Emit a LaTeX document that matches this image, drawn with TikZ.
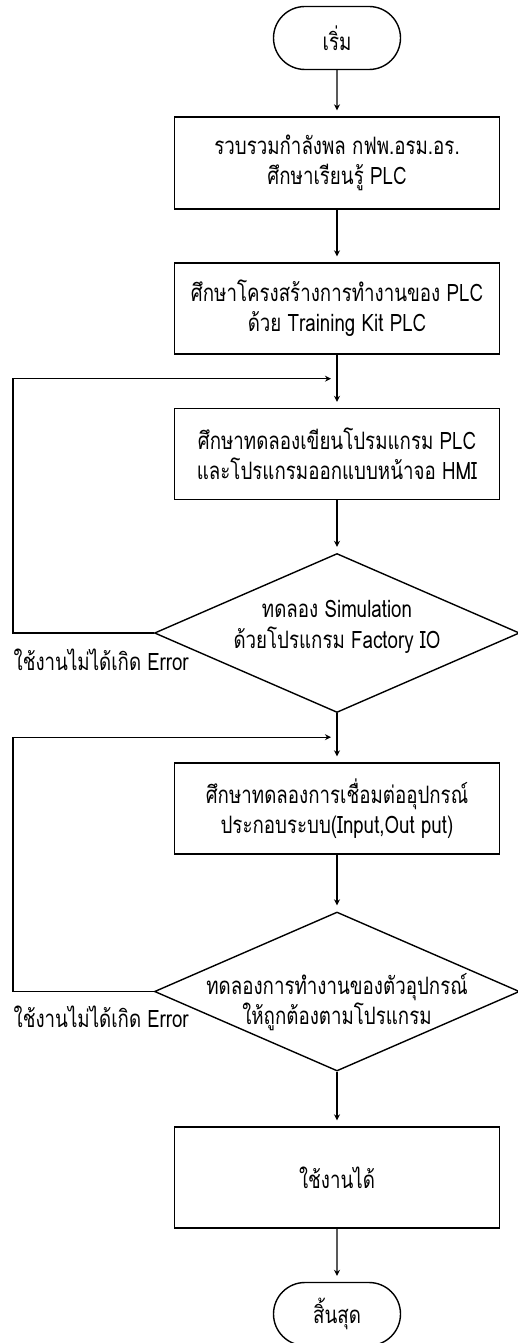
\documentclass[tikz,border=0pt]{standalone}
\usepackage{fontspec}
\setmainfont{Loma}[Script=Thai, FakeStretch=0.78]
\usetikzlibrary{positioning, shapes.geometric, shapes.misc, arrows.meta}

\newcommand{\dtext}[2]{\raisebox{#1}[0pt][0pt]{\begin{tabular}{@{}c@{}}#2\end{tabular}}}

\tikzset{
  term/.style={draw, rounded rectangle, minimum width=63.5pt, minimum height=31.5pt, inner sep=0pt},
  proc/.style={draw, rectangle, align=center, minimum width=162.5pt, minimum height=45.5pt, inner sep=0pt},
  test/.style={draw, diamond, aspect=2.3, inner sep=0pt, minimum width=182.5pt, minimum height=79.5pt},
  errlabel/.style={anchor=west, inner sep=0pt}
}

\begin{document}
\begin{tikzpicture}[x=0.5pt, y=-0.5pt, >={Stealth[length=3pt,width=3pt]}, shorten >=3pt, on grid, line width=0.7pt, font=\fontsize{12}{15}\selectfont]
  \useasboundingbox (0,0) rectangle (518,1343);
  \node[term] (s0) at (337,38) {เริ่ม};
  \node[proc] (s1) [below=62.5pt of s0, minimum height=46pt] {รวบรวมกำลังพล กฟพ.อรม.อร.\\ศึกษาเรียนรู้ PLC};
  \node[proc] (s2) [below=72.75pt of s1] {ศึกษาโครงสร้างการทำงานของ PLC\\ด้วย Training Kit PLC};
  \node[proc] (s3) [below=72.75pt of s2] {ศึกษาทดลองเขียนโปรมแกรม PLC\\และโปรแกรมออกแบบหน้าจอ HMI};
  \node[test] (s4) [below=89.5pt of s3] {\dtext{0pt}{ทดลอง Simulation\\ด้วยโปรแกรม Factory IO}};
  \node[proc] (s5) [below=87.75pt of s4] {ศึกษาทดลองการเชื่อมต่ออุปกรณ์\\ประกอบระบบ(Input,Out put)};
  \node[test] (s6) [below=91.5pt of s5] {\dtext{-9pt}{ทดลองการทำงานของตัวอุปกรณ์\\ให้ถูกต้องตามโปรแกรม}};
  \node[proc] (s7) [below=93pt of s6, minimum height=50.5pt] {ใช้งานได้};
  \node[term] (s8) [below=68.25pt of s7] {สิ้นสุด};
  \node[errlabel] (e1) at (13,660) {ใช้งานไม่ได้เกิด Error};
  \node[errlabel] (e2) at (13,1017) {ใช้งานไม่ได้เกิด Error};
  \coordinate[below=12pt of s2.south] (j1);
  \coordinate[below=12pt of s4.south] (j2);
  \path[->]
(s0) edge (s1)
(s1) edge (s2)
(s2) edge (s3)
(s3) edge (s4)
(s4) edge (s5)
(s5) edge (s6)
(s6) edge (s7)
(s7) edge (s8)
  ;
  \draw[->] (s4.west) -| (e1.west |- j1) -- (j1);
  \draw[->] (s6.west) -| (e2.west |- j2) -- (j2);
\end{tikzpicture}
\end{document}
